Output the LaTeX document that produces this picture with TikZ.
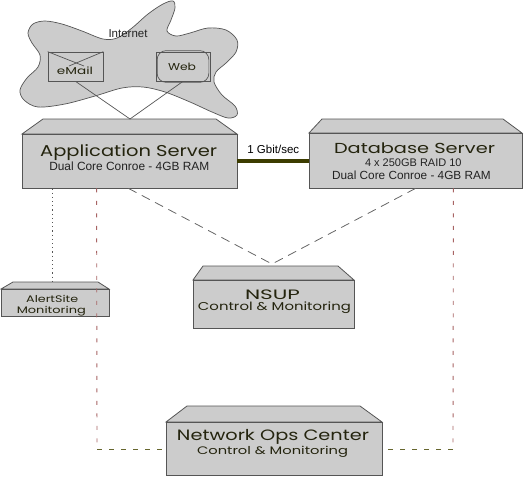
\documentclass[tikz,border=0pt]{standalone}
\usepackage{fontspec}
\setmainfont{Liberation Sans}
\newfontfamily\techfont{Poppins}
\usetikzlibrary{fit}
\definecolor{boxgray}{HTML}{CCCCCC}
\definecolor{edgegray}{HTML}{555555}
\definecolor{titlecol}{HTML}{24240E}
\definecolor{subcol}{HTML}{222222}
\definecolor{linkcol}{HTML}{3C3C00}
\definecolor{redcol}{HTML}{A86464}
\definecolor{olivecol}{HTML}{66662E}
\definecolor{dashgray}{HTML}{666666}
\newcommand{\techtxt}[3]{{\techfont\fontsize{#1}{#1}\selectfont\resizebox{#2pt}{\height}{#3}}}
\newcommand{\subsize}[1]{\fontsize{#1}{#1}\selectfont}
\newcommand{\srvbox}[8]{%
  \filldraw[bevel] (#2+#7,#6) -- (#4-#8,#6) -- (#4,#3) -- (#2,#3) -- cycle;
  \node[srvbody, fit={(#2,#3)(#4,#5)}] (#1) {};}
\tikzset{
  bevel/.style={fill=boxgray, draw=edgegray, line width=0.8pt, line join=miter},
  srvbody/.style={fill=boxgray, draw=edgegray, line width=0.8pt, inner sep=0pt},
  txt/.style={inner sep=0pt, anchor=base},
  thin/.style={draw=edgegray, line width=0.7pt},
  reddash/.style={draw=redcol, line width=0.9pt, dash pattern=on 4pt off 8.5pt},
  olivedash/.style={draw=olivecol, line width=0.9pt, dash pattern=on 5pt off 7pt},
  graydash/.style={draw=dashgray, line width=0.8pt, dash pattern=on 9pt off 6pt},
  dotline/.style={draw=edgegray, line width=0.9pt, dash pattern=on 1.2pt off 3pt},
  linkline/.style={draw=linkcol, line width=4pt}
}
\begin{document}
\begin{tikzpicture}[x=1pt,y=-1pt]
\useasboundingbox (0,0) rectangle (525,477);
% cloud
\filldraw[fill=boxgray, draw=edgegray, line width=0.7pt]
  plot[smooth cycle, tension=0.55] coordinates {
  (28,33) (33,24) (45,21) (62,24) (82,31) (103,39) (117,38) (132,28) (148,14)
  (163,4) (173,1) (175,8) (171,20) (167,31) (176,36) (190,33) (208,28) (226,30)
  (237,40) (236,52) (226,63) (216,72) (214,82) (222,95) (235,106) (237,115)
  (228,118) (212,112) (190,102) (165,92) (143,87) (122,88) (95,96) (65,104)
  (38,107) (24,100) (20,90) (27,78) (38,67) (40,55) (32,43)};
\node[txt, text=subcol, font=\subsize{11.5}] (internet) at (128,37) {Internet};
% email
\node[thin, draw, fit={(48,52)(103,81)}, inner sep=0pt] (email) {};
\draw[thin] (email.north west) -- (84,66);
\draw[thin] (email.north east) -- (69,66);
\node[txt, text=titlecol] (emailtxt) at (75,74) {\techtxt{10}{36}{eMail}};
% web
\node[thin, draw, fit={(156,52)(210,81)}, inner sep=0pt] (web) {};
\draw[thin, rounded corners=9pt] ([shift={(1.5pt,-1pt)}]web.south west) rectangle ([shift={(-1.5pt,1pt)}]web.north east);
\node[txt, text=titlecol] (webtxt) at (182,70) {\techtxt{10}{28}{Web}};
% servers
\srvbox{app}{22}{134}{237}{188}{119}{21}{21}
\srvbox{db}{309}{133}{522}{188}{119}{13}{19}
\srvbox{alert}{1}{289}{109}{316}{282}{12}{11}
\srvbox{nsup}{193}{280}{354}{328}{266}{10}{16}
\srvbox{noc}{166}{422}{382}{475}{406}{21}{22}
% internet connectors
\coordinate (apptop) at (130,119);
\draw[thin] (email.south) -- (apptop);
\draw[thin] (web.south) -- (apptop);
% texts
\node[txt, text=titlecol] (apptitle) at (128.7,156) {\techtxt{15.7}{177}{Application Server}};
\node[txt, text=subcol, font=\subsize{11.9}] (appsub) at (129.3,170) {Dual Core Conroe - 4GB RAM};
\node[txt, text=titlecol] (dbtitle) at (414.5,153) {\techtxt{14.5}{161}{Database Server}};
\node[txt, text=subcol, font=\subsize{11}] (dbsub1) at (413.3,166.3) {4 x 250GB RAID 10};
\node[txt, text=subcol, font=\subsize{11.8}] (dbsub2) at (411.5,179.3) {Dual Core Conroe - 4GB RAM};
\node[txt, text=titlecol] (alert1) at (52.2,302) {\techtxt{9.5}{52}{AlertSite}};
\node[txt, text=titlecol] (alert2) at (51.3,313) {\techtxt{9.5}{69}{Monitoring}};
\node[txt, text=titlecol] (nsup1) at (272.5,299.3) {\techtxt{13.6}{55}{NSUP}};
\node[txt, text=titlecol] (nsup2) at (274.5,310.7) {\techtxt{11.4}{153}{Control \& Monitoring}};
\node[txt, text=titlecol] (noc1) at (273,440.7) {\techtxt{15}{192}{Network Ops Center}};
\node[txt, text=titlecol] (noc2) at (272.5,454.3) {\techtxt{10.9}{151}{Control \& Monitoring}};
% link
\draw[linkline] (app.east |- 0,161) -- (db.west |- 0,161);
\node[txt, text=black, font=\subsize{11.5}] (linklbl) at (273.3,153.5) {1 Gbit/sec};
% to NSUP
\coordinate (nsuptop) at (272,264);
\draw[graydash] ([xshift=-1pt]app.south) -- (nsuptop);
\draw[graydash] (db.south) -- (nsuptop);
% to AlertSite
\draw[dotline] ([xshift=31pt]app.south west) -- ([xshift=52pt]alert.north west |- 0,282);
% to NOC
\coordinate (cornerL) at (97,449);
\coordinate (cornerR) at (453,449);
\draw[reddash] ([xshift=75pt]app.south west) -- (cornerL);
\draw[olivedash] (cornerL) -- (noc.west |- cornerL);
\draw[reddash] ([xshift=-69pt]db.south east) -- (cornerR);
\draw[olivedash] (cornerR) -- (noc.east |- cornerR);
\end{tikzpicture}
\end{document}
